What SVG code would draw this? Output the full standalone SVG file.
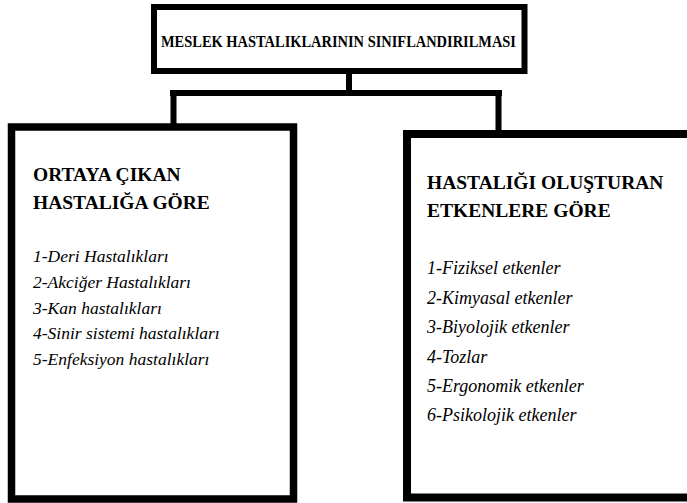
<svg xmlns="http://www.w3.org/2000/svg" width="687" height="503" viewBox="0 0 687 503">
<style>
.box{fill:#fff;stroke:#000}
.con{fill:none;stroke:#000;stroke-width:6;stroke-linecap:square}
.t{fill:#000;font-family:"Liberation Serif","Times New Roman",serif}
.b{font-weight:bold;font-size:19.5px}
.il{font-style:italic;font-size:17.5px}
.ir{font-style:italic;font-size:18px}
</style>
<rect width="687" height="503" fill="#fff"/>
<g id="connectors">
<path class="con" d="M349,74 V93 M173,93 H499 M173.5,93 V124 M498.5,93 V131"/>
</g>
<g id="root">
<rect class="box" x="154" y="7" width="370.5" height="64" stroke-width="6"/>
<text class="t" font-weight="bold" x="161" y="46.5" font-size="17" textLength="355" lengthAdjust="spacingAndGlyphs">MESLEK HASTALIKLARININ SINIFLANDIRILMASI</text>
</g>
<g id="left">
<rect class="box" x="11.5" y="127" width="282" height="372" stroke-width="7.5"/>
<text class="t b" x="33" y="181">ORTAYA ÇIKAN</text>
<text class="t b" x="33" y="209">HASTALIĞA GÖRE</text>
<text class="t il" x="33" y="262">1-Deri Hastalıkları</text>
<text class="t il" x="33" y="288">2-Akciğer Hastalıkları</text>
<text class="t il" x="33" y="313.5">3-Kan hastalıkları</text>
<text class="t il" x="33" y="339">4-Sinir sistemi hastalıkları</text>
<text class="t il" x="33" y="364.5">5-Enfeksiyon hastalıkları</text>
</g>
<g id="right">
<rect class="box" x="407" y="134" width="300" height="363.5" stroke-width="8"/>
<text class="t b" x="427" y="189">HASTALIĞI OLUŞTURAN</text>
<text class="t b" x="427" y="216.5">ETKENLERE GÖRE</text>
<text class="t ir" x="427" y="274">1-Fiziksel etkenler</text>
<text class="t ir" x="427" y="303.5">2-Kimyasal etkenler</text>
<text class="t ir" x="427" y="333">3-Biyolojik etkenler</text>
<text class="t ir" x="427" y="362.5">4-Tozlar</text>
<text class="t ir" x="427" y="392">5-Ergonomik etkenler</text>
<text class="t ir" x="427" y="421">6-Psikolojik etkenler</text>
</g>
</svg>
